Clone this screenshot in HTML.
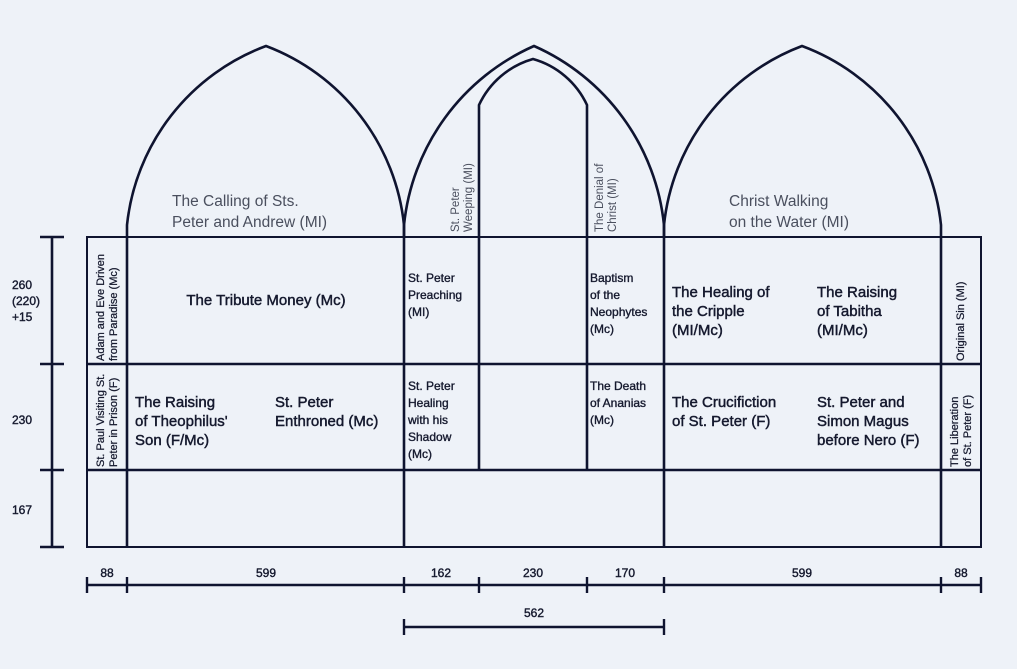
<!DOCTYPE html>
<html><head><meta charset="utf-8"><style>
html,body{margin:0;padding:0;background:#eef2f8;}
svg{display:block;}
text{font-family:"Liberation Sans",sans-serif;fill:#15192e;}
.m{font-size:15px;stroke:#15192e;stroke-width:0.45;}
.s{font-size:12px;stroke:#15192e;stroke-width:0.35;}
.g{font-size:15.5px;fill:#4a4f5e;}
.r{font-size:11.5px;fill:#4a4f5e;}
.rb{font-size:11px;stroke:#15192e;stroke-width:0.25;}
.d{font-size:12px;stroke:#15192e;stroke-width:0.4;}
</style></head><body>
<svg width="1017" height="669" viewBox="0 0 1017 669" xmlns="http://www.w3.org/2000/svg">
<rect width="1017" height="669" fill="#eef2f8"/>
<g fill="none" stroke="#0f1430" stroke-width="2.6">
<path d="M127,237 L127,225 A215,215 0 0 1 266,46 A215,215 0 0 1 404,225 L404,237"/>
<path d="M404,237 L404,225 A220,220 0 0 1 534,46 A220,220 0 0 1 664,225 L664,237"/>
<path d="M479,470 L479,105 A85,85 0 0 1 533,59 A85,85 0 0 1 587,105 L587,470"/>
<path d="M664,237 L664,225 A215,215 0 0 1 802,46 A215,215 0 0 1 941,225 L941,237"/>
<rect x="87" y="237" width="894" height="310" stroke-width="2"/>
<line x1="87" y1="364" x2="981" y2="364"/>
<line x1="87" y1="470" x2="981" y2="470"/>
<line x1="127" y1="237" x2="127" y2="547"/>
<line x1="404" y1="237" x2="404" y2="547"/>
<line x1="664" y1="237" x2="664" y2="547"/>
<line x1="941" y1="237" x2="941" y2="547"/>
<line x1="52" y1="237" x2="52" y2="547"/>
<line x1="40" y1="237" x2="64" y2="237"/>
<line x1="40" y1="364" x2="64" y2="364"/>
<line x1="40" y1="470" x2="64" y2="470"/>
<line x1="40" y1="547" x2="64" y2="547"/>
<line x1="87" y1="585" x2="981" y2="585"/>
<g stroke-width="2.4">
<line x1="87" y1="577" x2="87" y2="593"/><line x1="127" y1="577" x2="127" y2="593"/>
<line x1="404" y1="577" x2="404" y2="593"/><line x1="479" y1="577" x2="479" y2="593"/>
<line x1="587" y1="577" x2="587" y2="593"/><line x1="664" y1="577" x2="664" y2="593"/>
<line x1="941" y1="577" x2="941" y2="593"/><line x1="981" y1="577" x2="981" y2="593"/>
<line x1="404" y1="627" x2="664" y2="627"/>
<line x1="404" y1="619" x2="404" y2="635"/><line x1="664" y1="619" x2="664" y2="635"/>
</g>
</g>
<g class="d">
<text x="12" y="289">260</text><text x="12" y="305">(220)</text><text x="12" y="321">+15</text>
<text x="12" y="424">230</text><text x="12" y="514">167</text>
<g text-anchor="middle">
<text x="107" y="577">88</text><text x="266" y="577">599</text><text x="441" y="577">162</text>
<text x="533" y="577">230</text><text x="625" y="577">170</text><text x="802" y="577">599</text>
<text x="961" y="577">88</text><text x="534" y="617">562</text>
</g></g>
<text class="g" x="172" y="206">The Calling of Sts.</text>
<text class="g" x="172" y="227">Peter and Andrew (MI)</text>
<text class="g" x="729" y="206">Christ Walking</text>
<text class="g" x="729" y="227">on the Water (MI)</text>
<text class="r" transform="translate(459,232) rotate(-90)">St. Peter</text>
<text class="r" transform="translate(472,232) rotate(-90)">Weeping (MI)</text>
<text class="r" transform="translate(603,232) rotate(-90)">The Denial of</text>
<text class="r" transform="translate(616,232) rotate(-90)">Christ (MI)</text>
<text class="rb" transform="translate(104,361) rotate(-90)">Adam and Eve Driven</text>
<text class="rb" transform="translate(117,361) rotate(-90)">from Paradise (Mc)</text>
<text class="rb" transform="translate(104,467) rotate(-90)">St. Paul Visiting St.</text>
<text class="rb" transform="translate(117,467) rotate(-90)">Peter in Prison (F)</text>
<text class="rb" transform="translate(964,361) rotate(-90)">Original Sin (MI)</text>
<text class="rb" transform="translate(958,467) rotate(-90)">The Liberation</text>
<text class="rb" transform="translate(971,467) rotate(-90)">of St. Peter (F)</text>
<text class="m" x="266" y="305" text-anchor="middle">The Tribute Money (Mc)</text>
<g class="s">
<text x="408" y="282">St. Peter</text><text x="408" y="299">Preaching</text><text x="408" y="316">(MI)</text>
<text x="590" y="282">Baptism</text><text x="590" y="299">of the</text><text x="590" y="316">Neophytes</text><text x="590" y="333">(Mc)</text>
<text x="408" y="390">St. Peter</text><text x="408" y="407">Healing</text><text x="408" y="424">with his</text><text x="408" y="441">Shadow</text><text x="408" y="458">(Mc)</text>
<text x="590" y="390">The Death</text><text x="590" y="407">of Ananias</text><text x="590" y="424">(Mc)</text>
</g>
<g class="m">
<text x="672" y="297">The Healing of</text><text x="672" y="316">the Cripple</text><text x="672" y="335">(MI/Mc)</text>
<text x="817" y="297">The Raising</text><text x="817" y="316">of Tabitha</text><text x="817" y="335">(MI/Mc)</text>
<text x="135" y="407">The Raising</text><text x="135" y="426">of Theophilus'</text><text x="135" y="445">Son (F/Mc)</text>
<text x="275" y="407">St. Peter</text><text x="275" y="426">Enthroned (Mc)</text>
<text x="672" y="407">The Crucifiction</text><text x="672" y="426">of St. Peter (F)</text>
<text x="817" y="407">St. Peter and</text><text x="817" y="426">Simon Magus</text><text x="817" y="445">before Nero (F)</text>
</g>
</svg>
</body></html>
